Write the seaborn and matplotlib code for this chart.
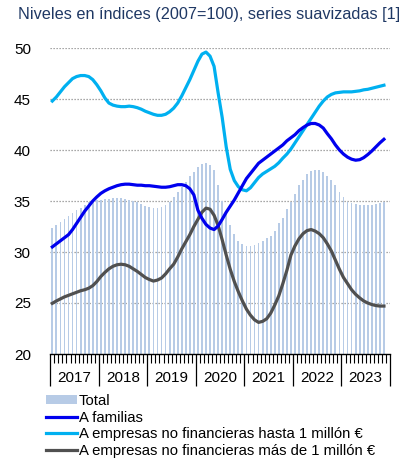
import numpy as np
import pandas as pd
import matplotlib
matplotlib.use("Agg")
import matplotlib.pyplot as plt
from matplotlib.patches import Patch
from matplotlib.lines import Line2D
from matplotlib.ticker import MultipleLocator, FixedLocator
import seaborn as sns

# Monthly series, Jan 2017 - Nov 2023 (index, 2007 = 100)
months = pd.period_range("2017-01", "2023-11", freq="M")
years = ["2017", "2018", "2019", "2020", "2021", "2022", "2023"]

total = [
    32.35, 32.6, 32.95, 33.2, 33.5, 33.8, 34.1, 34.3, 34.6, 34.9, 35.0, 35.1,
    35.1, 35.15, 35.15, 35.25, 35.25, 35.25, 35.2, 35.1, 35.0, 34.9, 34.7, 34.55,
    34.4, 34.3, 34.3, 34.45, 34.6, 34.9, 35.4, 35.9, 36.4, 36.9, 37.45, 37.85,
    38.3, 38.6, 38.75, 38.5, 38.0, 36.6, 35.0, 33.7, 32.6, 31.8, 31.1, 30.75,
    30.6, 30.6, 30.65, 30.9, 31.1, 31.4, 31.6, 32.1, 32.8, 33.3, 34.2, 34.9,
    35.7, 36.6, 37.1, 37.65, 37.9, 38.0, 38.0, 37.8, 37.45, 37.05, 36.6, 35.9,
    35.4, 34.9, 34.8, 34.7, 34.6, 34.6, 34.6, 34.65, 34.7, 34.85, 34.9,
]

familias = [
    30.5, 30.8, 31.1, 31.4, 31.7, 32.2, 32.8, 33.4, 34.0, 34.5, 35.0, 35.4,
    35.75, 36.0, 36.2, 36.35, 36.5, 36.6, 36.65, 36.65, 36.6, 36.55, 36.55, 36.5,
    36.5, 36.45, 36.4, 36.35, 36.35, 36.4, 36.5, 36.6, 36.6, 36.5, 36.2, 35.6,
    34.1, 33.3, 32.7, 32.35, 32.2, 32.55, 33.2, 33.9, 34.5, 35.1, 35.8, 36.5,
    37.2, 37.7, 38.2, 38.7, 39.0, 39.3, 39.6, 39.9, 40.2, 40.5, 40.9, 41.2,
    41.5, 41.9, 42.2, 42.45, 42.6, 42.6, 42.45, 42.15, 41.6, 41.1, 40.5, 40.0,
    39.6, 39.3, 39.1, 39.0, 39.05, 39.25, 39.55, 39.9, 40.3, 40.7, 41.05,
]

pymes = [
    44.8, 45.2, 45.7, 46.2, 46.6, 47.0, 47.2, 47.3, 47.3, 47.2, 46.9, 46.4,
    45.8, 45.1, 44.6, 44.4, 44.3, 44.25, 44.25, 44.3, 44.25, 44.15, 44.0, 43.8,
    43.65, 43.5, 43.4, 43.4, 43.5, 43.75, 44.1, 44.6, 45.3, 46.1, 46.9, 47.8,
    48.7, 49.4, 49.6, 49.2, 48.2, 45.6, 43.2, 40.3, 38.1, 37.0, 36.4, 36.1,
    36.0, 36.3, 36.8, 37.3, 37.65, 37.9, 38.15, 38.4, 38.75, 39.2, 39.6, 40.1,
    40.7, 41.3, 41.9, 42.5, 43.1, 43.7, 44.3, 44.8, 45.2, 45.45, 45.6, 45.65,
    45.7, 45.7, 45.7, 45.75, 45.8, 45.9, 45.95, 46.05, 46.15, 46.25, 46.35,
]

grandes = [
    24.97, 25.2, 25.4, 25.6, 25.75, 25.9, 26.05, 26.2, 26.3, 26.45, 26.7, 27.1,
    27.6, 28.0, 28.35, 28.6, 28.75, 28.8, 28.75, 28.6, 28.35, 28.1, 27.8, 27.5,
    27.3, 27.15, 27.25, 27.45, 27.85, 28.35, 28.8, 29.5, 30.3, 31.0, 31.7, 32.5,
    33.2, 33.9, 34.3, 34.2, 33.6, 32.6, 31.2, 29.7, 28.3, 27.1, 26.1, 25.2,
    24.4, 23.8, 23.35, 23.1, 23.2, 23.45, 24.0, 24.8, 25.7, 26.9, 28.2, 29.7,
    30.6, 31.3, 31.8, 32.1, 32.2, 32.05, 31.8, 31.4, 30.8, 30.1, 29.2, 28.3,
    27.5, 26.9, 26.3, 25.85, 25.5, 25.2, 25.0, 24.85, 24.75, 24.7, 24.7,
]

labels = [
    "Total",
    "A familias",
    "A empresas no financieras hasta 1 millón €",
    "A empresas no financieras más de 1 millón €",
]

c_total = "#B7CBE6"
c_fam = "#0000EE"
c_pyme = "#00B0F0"
c_gran = "#505050"

plt.rcParams["font.family"] = ["Liberation Sans", "DejaVu Sans"]

W, H = 399, 459
fig = plt.figure(figsize=(W / 100, H / 100), dpi=100)
ax = fig.add_axes([50.3 / W, 1 - 354 / H, (390 - 50.3) / W, (354 - 48) / H])

x = np.arange(len(months)) + 0.5
df = pd.DataFrame({"x": x, "total": total, "familias": familias,
                   "pymes": pymes, "grandes": grandes})

sns.barplot(data=df, x="x", y="total", native_scale=True, width=0.45,
            color=c_total, saturation=1, ax=ax, zorder=1)
sns.lineplot(data=df, x="x", y="familias", color=c_fam, lw=2.3, ax=ax, zorder=4)
sns.lineplot(data=df, x="x", y="pymes", color=c_pyme, lw=2.3, ax=ax, zorder=3)
sns.lineplot(data=df, x="x", y="grandes", color=c_gran, lw=2.3, ax=ax, zorder=3)

ax.set_xlim(0, 84)
ax.set_ylim(20, 50)
ax.set_xlabel("")
ax.set_ylabel("")

# horizontal dotted grid
for v in range(25, 51, 5):
    ax.axhline(v, color="#8C8C8C", lw=0.9, ls=(0, (1, 1.4)), zorder=0)

for s in ["top", "right", "left"]:
    ax.spines[s].set_visible(False)
ax.spines["bottom"].set_color("black")
ax.spines["bottom"].set_linewidth(1.0)
ax.spines["bottom"].set_zorder(5)

ax.yaxis.set_major_locator(MultipleLocator(5))
ax.tick_params(axis="y", length=0, pad=14, labelsize=11, colors="black")

ax.xaxis.set_major_locator(FixedLocator(np.arange(0, 85, 12)))
ax.xaxis.set_minor_locator(FixedLocator(np.arange(0, 85, 1)))
ax.tick_params(axis="x", which="major", length=23, width=0.9, color="black",
               labelbottom=False)
ax.tick_params(axis="x", which="minor", length=6.5, width=0.8, color="black")

for i, yr in enumerate(years):
    ax.text(i * 12 + 6, -0.078, yr, transform=ax.get_xaxis_transform(),
            ha="center", va="center", fontsize=11, color="black")

fig.text(18 / W, 1 - 14 / H, "Niveles en índices (2007=100), series suavizadas [1]",
         ha="left", va="center", fontsize=11.7, color="#1F3864")

handles = [
    Patch(facecolor=c_total, edgecolor="none"),
    Line2D([], [], color=c_fam, lw=2.3),
    Line2D([], [], color=c_pyme, lw=2.3),
    Line2D([], [], color=c_gran, lw=2.3),
]
fig.legend(handles, labels, loc="upper left",
           bbox_to_anchor=(46 / W, 1 - 394 / H), frameon=False,
           borderpad=0, borderaxespad=0, handlelength=2.1, handleheight=0.55,
           handletextpad=0.1, labelspacing=0.17, fontsize=10.7)

fig.savefig("out.png", dpi=100)
